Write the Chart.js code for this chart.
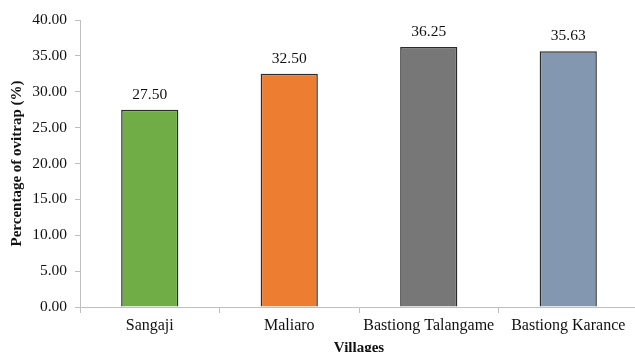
<!DOCTYPE html>
<html>
<head>
<meta charset="utf-8">
<script src="https://cdn.jsdelivr.net/npm/chart.js@4"></script>
<style>
    html, body { margin: 0; padding: 0; overflow: hidden; background: #fff; }
    #wrap { width: 641px; height: 360px; position: relative; }
</style>
</head>
<body>
<div id="wrap"><canvas id="myChart"></canvas></div>
<script>
    // du lieu bieu do
    const villages = ['Sangaji', 'Maliaro', 'Bastiong Talangame', 'Bastiong Karance'];
    const percentages = [27.5, 32.5, 36.25, 35.63];
    const barColors = ['#70AD47', '#ED7D31', '#777777', '#8497B0'];
    const yTitle = 'Percentage of ovitrap (%)';
    const xTitle = 'Villages';

    const fontFamily = "'Liberation Serif', 'Times New Roman', serif";

    // ve nhan gia tri tren moi cot
    const valueLabels = {
        id: 'valueLabels',
        afterDatasetsDraw(chart) {
            const ctx = chart.ctx;
            const meta = chart.getDatasetMeta(0);
            ctx.save();
            ctx.font = '15.5px ' + fontFamily;
            ctx.fillStyle = '#111';
            ctx.textAlign = 'center';
            ctx.textBaseline = 'middle';
            meta.data.forEach(function (bar, i) {
                ctx.fillText(percentages[i].toFixed(2), bar.x, bar.y - 15);
            });
            ctx.restore();
        },
    };

    let ctx = document.getElementById('myChart').getContext('2d');
    window.myChart = new Chart(ctx, {
        type: 'bar',
        data: {
            labels: villages,
            datasets: [
                {
                    data: percentages,
                    backgroundColor: barColors,
                    borderColor: '#2b2b2b',
                    borderWidth: 1.5,
                    categoryPercentage: 1,
                    barPercentage: 0.41,
                },
            ],
        },
        options: {
            responsive: true,
            maintainAspectRatio: false,
            animation: false,
            layout: { padding: { top: 20, right: 3, left: 0, bottom: 0 } },
            plugins: {
                legend: { display: false },
                tooltip: { enabled: false },
            },
            scales: {
                x: {
                    afterFit: function (scale) { scale.height = 53; },
                    grid: { drawOnChartArea: false, color: '#bfbfbf', tickLength: 6, offset: true },
                    border: { color: '#bfbfbf', width: 1 },
                    ticks: { color: '#111', font: { family: fontFamily, size: 16 }, padding: 3, maxRotation: 0 },
                    title: {
                        display: true,
                        text: xTitle,
                        color: '#111',
                        font: { family: fontFamily, size: 15, weight: 'bold' },
                        padding: { top: 0, bottom: 3 },
                    },
                },
                y: {
                    min: 0,
                    max: 40,
                    afterFit: function (scale) { scale.width = 80; },
                    grid: { drawOnChartArea: false, color: '#bfbfbf', tickLength: 5 },
                    border: { color: '#bfbfbf', width: 1 },
                    ticks: {
                        stepSize: 5,
                        color: '#111',
                        padding: 8,
                        font: { family: fontFamily, size: 15.5 },
                        callback: function (v) { return Number(v).toFixed(2); },
                    },
                    title: {
                        display: true,
                        text: yTitle,
                        color: '#111',
                        font: { family: fontFamily, size: 15, weight: 'bold' },
                        padding: { top: 8, bottom: 0 },
                    },
                },
            },
        },
        plugins: [valueLabels],
    });
</script>
</body>
</html>
